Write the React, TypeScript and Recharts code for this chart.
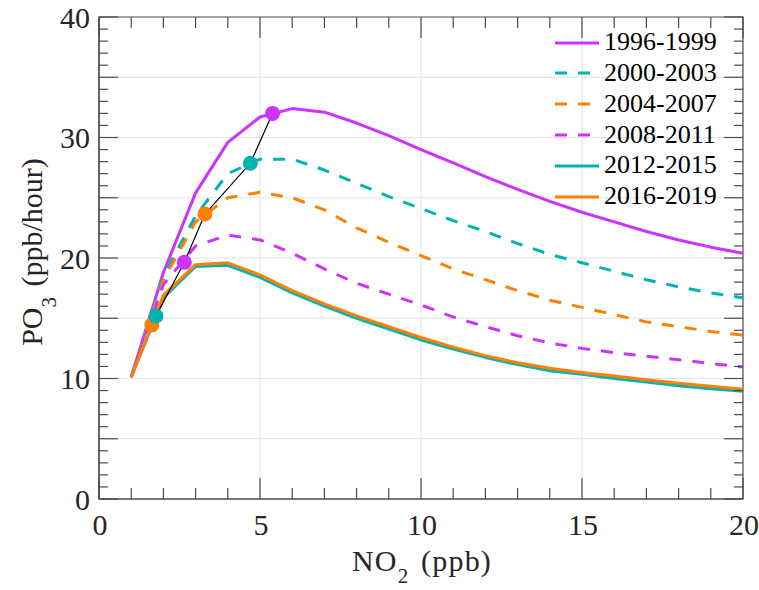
import { ComposedChart, Line, Scatter, XAxis, YAxis, CartesianGrid, ReferenceArea, Legend, Label } from 'recharts';

const W = 759;
const H = 590;
const Y_AXIS_W = 99;
const X_AXIS_H = 91;
const MARGIN = { top: 17, right: 16, bottom: 0, left: 0 };
const PLOT_TOP = MARGIN.top;
const PLOT_BOTTOM = H - X_AXIS_H;
const PLOT_LEFT = Y_AXIS_W;
const PLOT_RIGHT = W - MARGIN.right;

const PURPLE = '#CC33FF';
const TEAL = '#00B3B3';
const ORANGE = '#FF8000';
const AXIS = '#4a4a4a';
const TEXT = '#262626';
const GRID = '#e2e2e2';
const FONT = '"Liberation Serif", "Times New Roman", serif';

// NO2 (ppb)
const X_VALUES = [1, 2, 3, 4, 5, 6, 7, 8, 9, 10, 11, 12, 13, 14, 15, 16, 17, 18, 19, 20];

// PO3 (ppb/hour) per period
const P1996 = [10.1, 18.8, 25.4, 29.6, 31.7, 32.4, 32.1, 31.2, 30.15, 29.0, 27.9, 26.75, 25.7, 24.7, 23.8, 23.0, 22.2, 21.5, 20.9, 20.4];
const T2000 = [10.1, 18.5, 23.5, 27.0, 28.2, 28.2, 27.3, 26.2, 25.1, 24.1, 23.1, 22.2, 21.2, 20.3, 19.6, 18.9, 18.2, 17.6, 17.1, 16.7];
const O2004 = [10.1, 18.2, 23.0, 25.0, 25.45, 25.0, 24.0, 22.5, 21.3, 20.2, 19.1, 18.2, 17.3, 16.5, 15.9, 15.3, 14.7, 14.3, 13.9, 13.6];
const P2008 = [10.1, 17.8, 21.0, 21.9, 21.5, 20.4, 19.1, 17.9, 17.0, 16.1, 15.1, 14.3, 13.55, 12.95, 12.5, 12.15, 11.85, 11.55, 11.25, 10.95];
const T2012 = [10.1, 16.7, 19.3, 19.4, 18.4, 17.1, 16.0, 15.0, 14.1, 13.2, 12.45, 11.75, 11.15, 10.65, 10.35, 10.0, 9.7, 9.4, 9.15, 8.95];
const O2016 = [10.1, 16.9, 19.45, 19.6, 18.6, 17.3, 16.2, 15.2, 14.3, 13.4, 12.6, 11.9, 11.3, 10.85, 10.5, 10.2, 9.9, 9.6, 9.35, 9.1];

// marked point on each curve, same order as the periods
const MARK_X = [5.39, 4.7, 3.29, 2.65, 1.77, 1.64];
const MARK_Y = [32.0, 27.86, 23.65, 19.64, 15.19, 14.44];

const PERIODS = ['1996-1999', '2000-2003', '2004-2007', '2008-2011', '2012-2015', '2016-2019'];

const X_TICKS = [0, 1, 2, 3, 4, 5, 6, 7, 8, 9, 10, 11, 12, 13, 14, 15, 16, 17, 18, 19, 20];
const X_LABELS = [0, 5, 10, 15, 20];
const Y_TICKS = [0, 1, 2, 3, 4, 5, 6, 7, 8, 9, 10, 11, 12, 13, 14, 15, 16, 17, 18, 19, 20, 21, 22, 23, 24, 25, 26, 27, 28, 29, 30, 31, 32, 33, 34, 35, 36, 37, 38, 39, 40];
const Y_LABELS = [0, 10, 20, 30, 40];
const X_GRID = [5, 10, 15];
const Y_GRID = [5, 10, 15, 20, 25, 30, 35];

const SERIES = [
  { key: 'p1996', values: P1996, color: PURPLE, dash: undefined },
  { key: 't2000', values: T2000, color: TEAL, dash: '12 11' },
  { key: 'o2004', values: O2004, color: ORANGE, dash: '12 11' },
  { key: 'p2008', values: P2008, color: PURPLE, dash: '12 11' },
  { key: 't2012', values: T2012, color: TEAL, dash: undefined },
  { key: 'o2016', values: O2016, color: ORANGE, dash: undefined },
].map((s, i) => ({ ...s, name: PERIODS[i] }));

const data = X_VALUES.map((x, i) => {
  const row: Record<string, number> = { x };
  SERIES.forEach(s => { row[s.key] = s.values[i]; });
  return row;
});

// drawn newest first so the older circles sit on top
const markers = SERIES.map((s, i) => ({ x: MARK_X[i], y: MARK_Y[i], color: s.color })).reverse();

const XTick = (props: any) => {
  const { x, payload } = props;
  const v = payload.value;
  const len = v % 5 === 0 ? 21 : 11;
  return (
    <g>
      <line x1={x} x2={x} y1={PLOT_BOTTOM} y2={PLOT_BOTTOM - len} stroke={AXIS} strokeWidth={1.2} />
      <line x1={x} x2={x} y1={PLOT_TOP} y2={PLOT_TOP + len} stroke={AXIS} strokeWidth={1.2} />
      {X_LABELS.includes(v) && (
        <text x={x + 1} y={PLOT_BOTTOM + 36} textAnchor="middle" fontFamily={FONT} fontSize={30} fill={TEXT}>
          {v}
        </text>
      )}
    </g>
  );
};

const YTick = (props: any) => {
  const { y, payload } = props;
  const v = payload.value;
  const len = v % 5 === 0 ? 19 : 9;
  return (
    <g>
      <line x1={PLOT_LEFT} x2={PLOT_LEFT + len} y1={y} y2={y} stroke={AXIS} strokeWidth={1.2} />
      <line x1={PLOT_RIGHT} x2={PLOT_RIGHT - len} y1={y} y2={y} stroke={AXIS} strokeWidth={1.2} />
      {Y_LABELS.includes(v) && (
        <text x={PLOT_LEFT - 9} y={y + 10.5} textAnchor="end" fontFamily={FONT} fontSize={30} fill={TEXT}>
          {v}
        </text>
      )}
    </g>
  );
};

const XTitle = () => (
  <text x={(PLOT_LEFT + PLOT_RIGHT) / 2 + 1} y={571} textAnchor="middle" fontFamily={FONT} fontSize={30} fill={TEXT} letterSpacing={1.2}>
    NO<tspan fontSize={21} dy={12}>2</tspan><tspan dy={-12} dx={3}> (ppb)</tspan>
  </text>
);

const YTitle = () => (
  <text x={42} y={252} transform="rotate(-90 42 252)" textAnchor="middle" fontFamily={FONT} fontSize={30} fill={TEXT}>
    PO<tspan fontSize={21} dy={14}>3</tspan><tspan dy={-14} dx={3}> (ppb/hour)</tspan>
  </text>
);

const LegendBox = () => (
  <div style={{ fontFamily: FONT, fontSize: 26, color: '#000' }}>
    {SERIES.map(s => (
      <div key={s.key} style={{ display: 'flex', alignItems: 'center', height: 30.8 }}>
        <svg width={44} height={6} style={{ display: 'block' }}>
          <line x1={0} x2={44} y1={3} y2={3} stroke={s.color} strokeWidth={3} strokeDasharray={s.dash} />
        </svg>
        <span style={{ marginLeft: 5, lineHeight: '30.8px', whiteSpace: 'nowrap' }}>{s.name}</span>
      </div>
    ))}
  </div>
);

export default function App() {
  return (
    <div style={{ position: 'absolute', left: 0, top: 0, width: W, height: H, background: '#fff' }}>
      <ComposedChart width={W} height={H} data={data} margin={MARGIN}>
        <CartesianGrid stroke={GRID} strokeWidth={1} horizontalValues={Y_GRID} verticalValues={X_GRID} />
        <ReferenceArea x1={0} x2={20} y1={0} y2={40} fill="none" fillOpacity={0} stroke={AXIS} strokeWidth={1.2} />
        <XAxis
          type="number" dataKey="x" domain={[0, 20]} ticks={X_TICKS} interval={0}
          height={X_AXIS_H} tickSize={0} tickMargin={0} tickLine={false}
          axisLine={{ stroke: AXIS, strokeWidth: 1.2 }} tick={<XTick />}
        >
          <Label content={<XTitle />} />
        </XAxis>
        <YAxis
          type="number" domain={[0, 40]} ticks={Y_TICKS} interval={0}
          width={Y_AXIS_W} tickSize={0} tickMargin={0} tickLine={false}
          axisLine={{ stroke: AXIS, strokeWidth: 1.2 }} tick={<YTick />}
        >
          <Label content={<YTitle />} />
        </YAxis>
        {SERIES.map(s => (
          <Line
            key={s.key} dataKey={s.key} name={s.name} type="linear" stroke={s.color} strokeWidth={3}
            strokeDasharray={s.dash} strokeLinejoin="round" dot={false} activeDot={false} isAnimationActive={false}
          />
        ))}
        <Scatter
          data={markers} dataKey="y" isAnimationActive={false}
          line={{ stroke: '#000', strokeWidth: 1.2 }}
          shape={(p: any) => <circle cx={p.cx} cy={p.cy} r={7.5} fill={p.payload.color} />}
        />
        <Legend
          layout="vertical" align="center" verticalAlign="middle" content={<LegendBox />}
          wrapperStyle={{ left: 555, top: 27.3, width: 190, bottom: 'auto', right: 'auto' }}
        />
      </ComposedChart>
    </div>
  );
}
